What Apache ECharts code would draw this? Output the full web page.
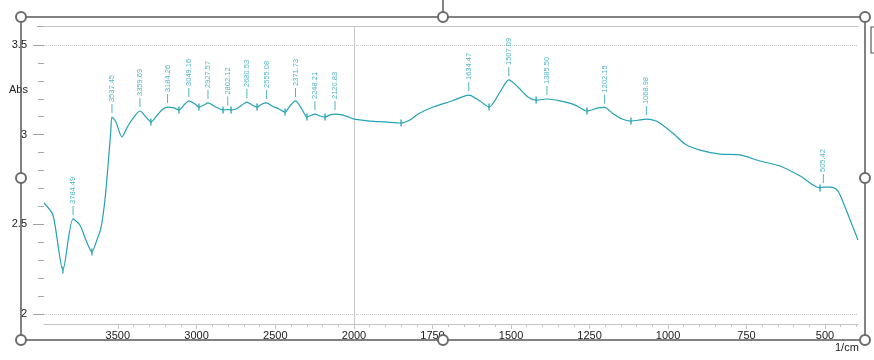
<!DOCTYPE html>
<html><head><meta charset="utf-8">
<script src="https://cdn.jsdelivr.net/npm/echarts@6/dist/echarts.min.js"></script>
<style>html,body{margin:0;padding:0;background:#fff}#c{width:874px;height:360px}</style>
</head><body><div id="c"></div>
<script>
// Spectrum (wavenumber 1/cm, absorbance)
const waveNumbers = [3969,3912,3849,3784.49,3741,3703,3665,3633,3607,3582,3563,3544,3537.45,3512,3474,3436,3398,3359.69,3321,3290,3245,3213,3184.26,3144,3112,3074,3049.16,3010,2985,2953,2927.57,2877,2832,2802.12,2781,2750,2712,2680.53,2648,2616,2584,2555.08,2521,2476,2438,2407,2371.73,2343,2318,2299,2267,2248.21,2216,2184,2152,2120.83,2076,2000,1949,1901,1850,1822,1796,1748,1688,1634.47,1599,1570,1535,1507.09,1478,1446,1420,1385.50,1344,1296,1258,1223,1202.15,1178,1146,1118,1089,1068.98,1038,1009,978,946,898,834,771,707,643,579,516,505.42,484,465,452,420,395];
const absorbance = [2.619,2.552,2.245,2.530,2.496,2.413,2.346,2.413,2.480,2.636,2.820,3.030,3.098,3.071,2.987,3.048,3.098,3.132,3.098,3.071,3.115,3.143,3.154,3.149,3.138,3.171,3.188,3.171,3.154,3.165,3.177,3.154,3.138,3.140,3.138,3.143,3.165,3.182,3.165,3.154,3.171,3.177,3.160,3.143,3.126,3.160,3.188,3.160,3.121,3.098,3.110,3.115,3.104,3.098,3.110,3.115,3.110,3.087,3.076,3.071,3.065,3.082,3.115,3.154,3.188,3.221,3.188,3.154,3.238,3.305,3.266,3.210,3.193,3.199,3.188,3.165,3.132,3.149,3.152,3.121,3.087,3.076,3.082,3.087,3.076,3.043,2.998,2.948,2.914,2.892,2.887,2.853,2.825,2.769,2.703,2.708,2.708,2.697,2.664,2.524,2.413];
// Labelled peaks
const peakWaves = [3784.49,3537.45,3359.69,3184.26,3049.16,2927.57,2802.12,2680.53,2555.08,2371.73,2248.21,2120.83,1634.47,1507.09,1385.50,1202.15,1068.98,505.42];
// Valley markers
const valleyWaves = [3849,3665,3290,3112,2985,2832,2781,2616,2438,2299,2184,1850,1570,1420,1258,1118,516];
// Axis ticks
const leftLabels = [3500,3000,2500];
const rightLabels = [2000,1750,1500,1250,1000,750,500];
const leftMinor = [3500,3400,3300,3200,3100,3000,2900,2800,2700,2600,2500,2400,2300,2200,2100];
const rightMinor = [1950,1900,1850,1800,1750,1700,1650,1600,1550,1500,1450,1400,1350,1300,1250,1200,1150,1100,1050,1000,950,900,850,800,750,700,650,600,550,500,450,400];
const BREAK = 2000;

const TEAL = '#22a2b2';
const absAt = w => absorbance[waveNumbers.indexOf(w)];
const pts = waveNumbers.map((w,i)=>[w,absorbance[i]]);
const leftPts = pts.filter(p=>p[0]>=BREAK), rightPts = pts.filter(p=>p[0]<=BREAK);
const peaks = peakWaves.map(w=>({value:[w,absAt(w)], name:w.toFixed(2)}));
const valleys = valleyWaves.map(w=>[w,absAt(w)]);

function mkX(grid, min, max, labels, minor){
  return [
    {type:'value', gridIndex:grid, min, max, inverse:true, position:'bottom', offset:10,
     axisLine:{show:true, lineStyle:{color:'#c4c4c4', width:1}},
     axisTick:{show:true, length:5, customValues:labels, lineStyle:{color:'#c4c4c4'}},
     axisLabel:{show:true, customValues:labels, margin:6, color:'#222', fontSize:11, fontFamily:'Arial', formatter:v=>String(v)},
     splitLine:{show:false}},
    {type:'value', gridIndex:grid, min, max, inverse:true, position:'bottom', offset:10,
     axisLine:{show:false}, axisLabel:{show:false},
     axisTick:{show:true, length:3, customValues:minor, lineStyle:{color:'#c4c4c4'}},
     splitLine:{show:false}},
    {type:'value', gridIndex:grid, min, max, inverse:true, position:'top', offset:19,
     axisLine:{show:true, lineStyle:{color:'#c4c4c4', width:1}},
     axisTick:{show:false}, axisLabel:{show:false}, splitLine:{show:false}}
  ];
}
function mkY(grid, visible){
  return [
    {type:'value', gridIndex:grid, min:2, max:3.5, interval:0.5, show:visible,
     axisLine:{show:false},
     axisTick:{show:true, length:11, lineStyle:{color:'#a0a0a0'}},
     minorTick:{show:true, splitNumber:5, length:6, lineStyle:{color:'#a8a8a8'}},
     axisLabel:{margin:17, color:'#222', fontSize:11, fontFamily:'Arial', formatter:v=>String(v)},
     splitLine:{show:false}},
    {type:'value', gridIndex:grid, min:2, max:3.5, interval:1.5,
     axisLine:{show:false}, axisTick:{show:false}, axisLabel:{show:false},
     splitLine:{show:true, lineStyle:{color:'#c4c4c4', type:'dotted', width:1}}}
  ];
}

function seriesFor(grid, data, xi, yi){
  const inR = w => grid===0 ? w>BREAK : w<BREAK;
  return [
    {type:'line', xAxisIndex:xi, yAxisIndex:yi, data, showSymbol:false, smooth:0.25,
     lineStyle:{color:TEAL, width:1.2}, z:3},
    {type:'scatter', xAxisIndex:xi, yAxisIndex:yi, data:valleys.filter(p=>inR(p[0])),
     symbol:'rect', symbolSize:[1.6,7], itemStyle:{color:TEAL}, z:4},
    {type:'scatter', xAxisIndex:xi, yAxisIndex:yi, data:peaks.filter(p=>inR(p.value[0])),
     symbol:'rect', symbolSize:[1,9], symbolOffset:[0,-8.5], itemStyle:{color:TEAL}, z:4,
     label:{show:true, position:'top', distance:2, rotate:90, align:'left', verticalAlign:'middle',
            formatter:'{b}', color:TEAL, fontSize:7.5, fontFamily:'Arial'}}
  ];
}

const handles = [[21,17],[443,17],[865,17],[21,178],[865,178],[21,340],[443,340],[865,340]];
const graphic = [
  {type:'line', shape:{x1:354.5,y1:26,x2:354.5,y2:324}, style:{stroke:'#c8c8c8', lineWidth:1}, z:1},
  {type:'line', shape:{x1:37,y1:26.5,x2:44,y2:26.5}, style:{stroke:'#a8a8a8', lineWidth:1}, z:1},
  {type:'text', x:9, y:90, style:{text:'Abs', fill:'#222', font:'11px Arial', verticalAlign:'middle'}},
  {type:'text', x:835, y:348, style:{text:'1/cm', fill:'#222', font:'11px Arial', verticalAlign:'middle'}},
  {type:'rect', shape:{x:21,y:17,width:844,height:323}, style:{fill:null, stroke:'#5a5a5a', lineWidth:1.5}, z:100},
  {type:'line', shape:{x1:443,y1:0,x2:443,y2:12}, style:{stroke:'#5a5a5a', lineWidth:1.5}, z:100},
  {type:'rect', shape:{x:871,y:27,width:12,height:26}, style:{fill:null, stroke:'#5a5a5a', lineWidth:1.2}, z:100}
].concat(handles.map(h=>({type:'circle', shape:{cx:h[0],cy:h[1],r:5}, style:{fill:'#fff', stroke:'#6a6a6a', lineWidth:2}, z:101})));

const option = {
  animation:false,
  grid:[{left:44,right:520,top:45,bottom:46},{left:354,right:16,top:45,bottom:46}],
  xAxis:[].concat(mkX(0,2000,3969,leftLabels,leftMinor), mkX(1,395,2000,rightLabels,rightMinor)),
  yAxis:[].concat(mkY(0,true), mkY(1,false)),
  series:[].concat(seriesFor(0,leftPts,0,0), seriesFor(1,rightPts,3,2)),
  graphic
};
const chart = echarts.init(document.getElementById('c'), null, {renderer:'canvas'});
chart.setOption(option);
</script></body></html>
